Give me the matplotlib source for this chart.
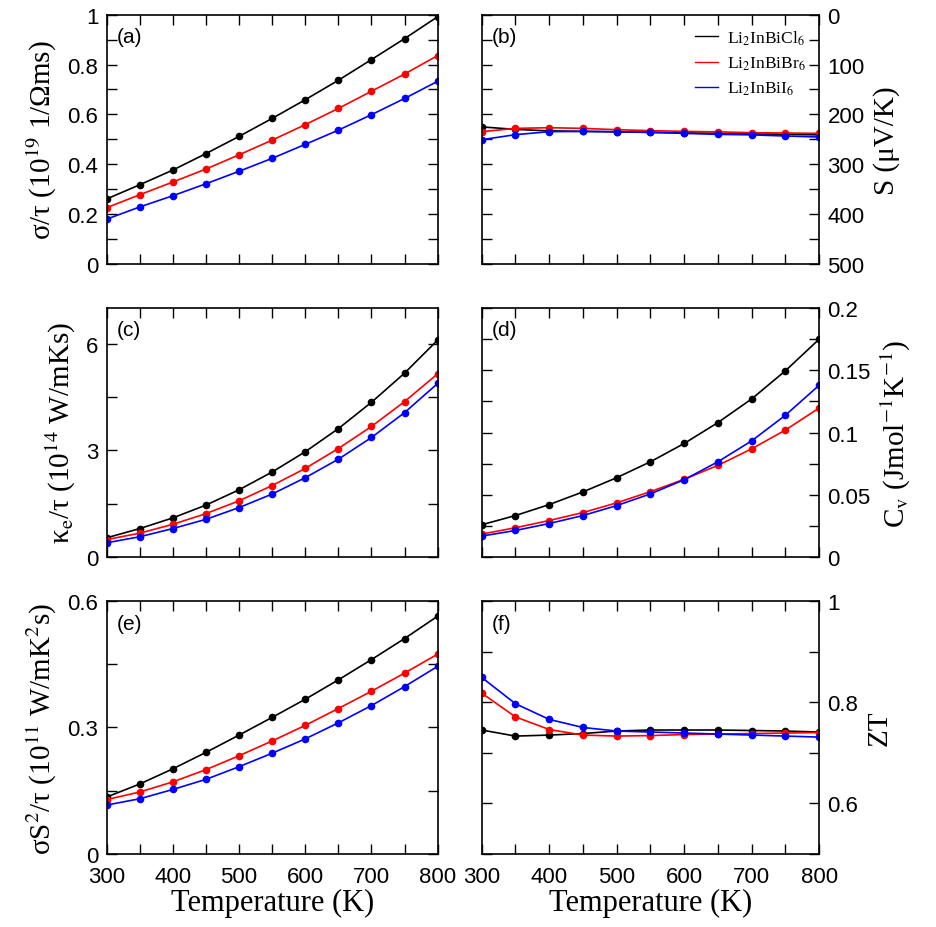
import matplotlib
matplotlib.use("Agg")
from matplotlib import pyplot as plt
from matplotlib.ticker import MultipleLocator, FormatStrFormatter

plt.rcParams['mathtext.fontset'] = 'stix'

temperature = [300, 350, 400, 450, 500, 550, 600, 650, 700, 750, 800]
labels = ["Li$_2$InBiCl$_6$", "Li$_2$InBiBr$_6$", "Li$_2$InBiI$_6$"]
colors = ["black", "red", "blue"]

sigma_cl = [0.261, 0.318, 0.377, 0.443, 0.512, 0.584, 0.659, 0.737, 0.820, 0.904, 0.992]
sigma_br = [0.226, 0.278, 0.329, 0.381, 0.438, 0.497, 0.559, 0.624, 0.693, 0.762, 0.836]
sigma_i = [0.180, 0.229, 0.274, 0.322, 0.372, 0.424, 0.480, 0.537, 0.599, 0.664, 0.733]

seebeck_cl = [225, 230, 233, 234, 235, 236, 237, 238, 239, 240, 241]
seebeck_br = [234.6, 228, 226.6, 228, 230.6, 232.6, 234, 235, 236.6, 237.3, 238]
seebeck_i = [250.7, 240.6, 234.6, 234, 234.6, 236, 238, 240, 241, 243.3, 245.3]

kappa_cl = [0.54, 0.80, 1.10, 1.46, 1.89, 2.39, 2.96, 3.61, 4.35, 5.17, 6.10]
kappa_br = [0.49, 0.67, 0.92, 1.22, 1.58, 2.01, 2.49, 3.05, 3.67, 4.37, 5.15]
kappa_i = [0.40, 0.57, 0.80, 1.06, 1.39, 1.77, 2.23, 2.75, 3.36, 4.06, 4.88]

cv_cl = [0.0259, 0.0333, 0.0421, 0.0523, 0.0637, 0.0765, 0.0912, 0.108, 0.127, 0.1496, 0.175]
cv_br = [0.0184, 0.0235, 0.0293, 0.0357, 0.0435, 0.0525, 0.0624, 0.0736, 0.0869, 0.102, 0.1197]
cv_i = [0.0168, 0.0213, 0.0269, 0.0333, 0.0413, 0.0507, 0.0621, 0.0765, 0.0933, 0.1139, 0.138]

pf_cl = [0.135, 0.166, 0.202, 0.241, 0.282, 0.324, 0.367, 0.413, 0.461, 0.511, 0.564]
pf_br = [0.129, 0.147, 0.171, 0.200, 0.233, 0.268, 0.305, 0.345, 0.386, 0.429, 0.474]
pf_i = [0.116, 0.131, 0.153, 0.177, 0.207, 0.239, 0.273, 0.311, 0.352, 0.397, 0.445]

zt_cl = [0.745, 0.733, 0.735, 0.738, 0.743, 0.745, 0.745, 0.745, 0.744, 0.743, 0.741]
zt_br = [0.818, 0.771, 0.746, 0.735, 0.733, 0.734, 0.736, 0.737, 0.738, 0.739, 0.740]
zt_i = [0.849, 0.797, 0.766, 0.750, 0.743, 0.741, 0.739, 0.737, 0.735, 0.733, 0.731]

serif = "Liberation Serif"
sans = "Liberation Sans"


def make_panel(rect, series, ylim, major, minor, ylabel, tag, right=False, xlabels=False):
    ax = fig.add_axes(rect)
    for values, color, label in zip(series, colors, labels):
        ax.plot(temperature, values, color=color, lw=1.2, marker='o', ms=4.5, label=label)
    ax.set_xlim(300, 800)
    ax.set_ylim(*ylim)
    ax.xaxis.set_major_locator(MultipleLocator(100))
    ax.xaxis.set_minor_locator(MultipleLocator(50))
    ax.yaxis.set_major_locator(MultipleLocator(major))
    ax.yaxis.set_minor_locator(MultipleLocator(minor))
    ax.yaxis.set_major_formatter(FormatStrFormatter('%g'))
    ax.tick_params(which='both', direction='in', top=True, bottom=True, left=True, right=True,
                   length=7, width=1, labelsize=16, pad=6)
    ax.tick_params(axis='x', pad=9)
    ax.tick_params(labelbottom=xlabels)
    if right:
        ax.tick_params(labelleft=False, labelright=True)
        ax.yaxis.set_label_position('right')
    for lab in ax.get_xticklabels() + ax.get_yticklabels():
        lab.set_fontfamily(sans)
    ax.set_ylabel(ylabel, fontfamily=serif, fontsize=21, labelpad=6)
    if xlabels:
        ax.set_xlabel("Temperature (K)", fontfamily=serif, fontsize=22, labelpad=0)
    ax.text(0.03, 0.95, tag, transform=ax.transAxes, va='top', ha='left',
            fontfamily=sans, fontsize=15)
    for sp in ax.spines.values():
        sp.set_linewidth(1.2)
    return ax


fig = plt.figure(figsize=(9.36, 9.28), dpi=100)

left_x, left_w = 0.114, 0.3536
right_x, right_w = 0.5146, 0.3606
rows = [(0.7144, 0.2687), (0.3987, 0.2683), (0.0787, 0.2726)]

make_panel([left_x, rows[0][0], left_w, rows[0][1]], [sigma_cl, sigma_br, sigma_i],
           (0, 1), 0.2, 0.1, "σ/τ (10$^{19}$ 1/Ωms)", "(a)")
axb = make_panel([right_x, rows[0][0], right_w, rows[0][1]], [seebeck_cl, seebeck_br, seebeck_i],
                 (500, 0), 100, 50, "S (μV/K)", "(b)", right=True)
make_panel([left_x, rows[1][0], left_w, rows[1][1]], [kappa_cl, kappa_br, kappa_i],
           (0, 7), 3, 1.5, "κ$_\\mathrm{e}$/τ (10$^{14}$ W/mKs)", "(c)")
make_panel([right_x, rows[1][0], right_w, rows[1][1]], [cv_cl, cv_br, cv_i],
           (0, 0.2), 0.05, 0.025, "C$_\\mathrm{v}$ (Jmol$^{-1}$K$^{-1}$)", "(d)", right=True)
make_panel([left_x, rows[2][0], left_w, rows[2][1]], [pf_cl, pf_br, pf_i],
           (0, 0.6), 0.3, 0.15, "σS$^2$/τ (10$^{11}$ W/mK$^2$s)", "(e)", xlabels=True)
make_panel([right_x, rows[2][0], right_w, rows[2][1]], [zt_cl, zt_br, zt_i],
           (0.5, 1), 0.2, 0.1, "ZT", "(f)", right=True, xlabels=True)

handles = [plt.Line2D([], [], color=c, lw=1) for c in colors]
axb.legend(handles, labels, loc='upper right', frameon=False, handlelength=1.3,
           handletextpad=0.5, labelspacing=0.45, borderaxespad=0.4,
           prop={'family': serif, 'size': 12.5})

fig.savefig("out.png", dpi=100)
